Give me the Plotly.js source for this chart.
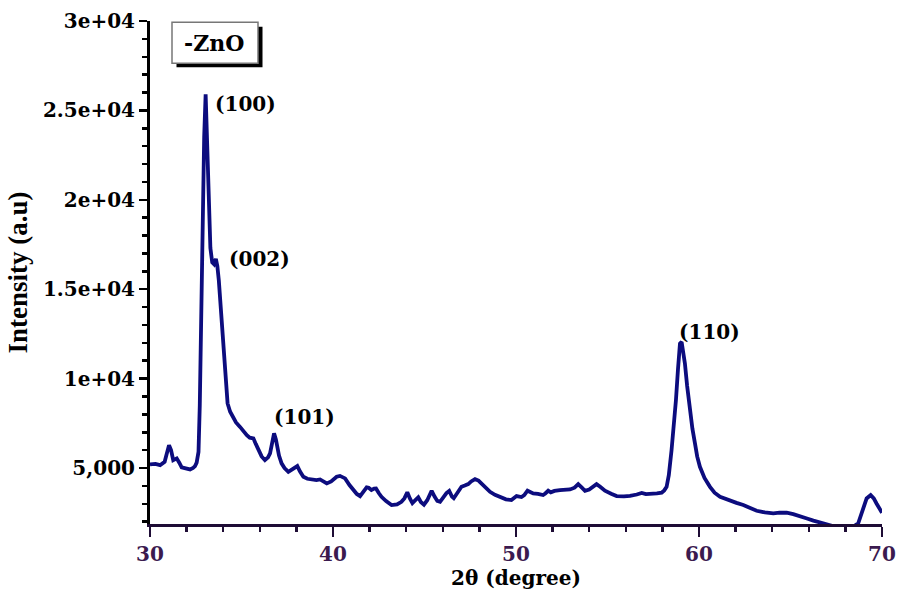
<!DOCTYPE html>
<html>
<head>
<meta charset="utf-8">
<script src="https://cdn.plot.ly/plotly-3.0.1.min.js"></script>
<style>html,body{margin:0;padding:0;background:#fff;}#chart{width:899px;height:593px;}</style>
</head>
<body>
<div id="chart"></div>
<script>
// 2θ (degree) positions
const twoTheta = [
  30.0, 30.3, 30.55, 30.8, 31.04, 31.15, 31.27, 31.46, 31.6, 31.73, 31.95, 32.19, 32.35, 32.46, 32.55, 32.65,
  32.72, 32.8, 32.88, 32.96, 33.04, 33.12, 33.2, 33.3, 33.4, 33.5, 33.6, 33.68, 33.76, 33.88, 34.0, 34.1,
  34.24, 34.38, 34.51, 34.7, 34.92, 35.1, 35.29, 35.45, 35.65, 35.78, 35.92, 36.1, 36.28, 36.45, 36.56, 36.68,
  36.78, 36.88, 36.95, 37.05, 37.19, 37.35, 37.56, 37.7, 37.83, 38.05, 38.2, 38.38, 38.6, 38.93, 39.1, 39.29,
  39.45, 39.66, 39.9, 40.2, 40.38, 40.66, 40.9, 41.1, 41.3, 41.48, 41.65, 41.84, 41.95, 42.1, 42.25, 42.35,
  42.5, 42.65, 42.9, 43.2, 43.5, 43.74, 43.9, 44.06, 44.2, 44.34, 44.5, 44.66, 44.8, 44.97, 45.15, 45.39,
  45.55, 45.7, 45.85, 46.02, 46.2, 46.35, 46.5, 46.6, 46.8, 47.02, 47.2, 47.39, 47.55, 47.76, 47.95, 48.11,
  48.35, 48.58, 48.85, 49.13, 49.45, 49.75, 50.03, 50.3, 50.45, 50.63, 50.8, 50.94, 51.2, 51.48, 51.6, 51.76,
  51.9, 52.1, 52.4, 52.7, 52.95, 53.2, 53.4, 53.6, 53.77, 54.0, 54.2, 54.4, 54.6, 54.86, 55.2, 55.5,
  55.9, 56.23, 56.6, 56.87, 57.1, 57.32, 57.7, 57.96, 58.1, 58.23, 58.35, 58.5, 58.62, 58.74, 58.85, 58.96,
  59.05, 59.14, 59.23, 59.35, 59.5, 59.64, 59.78, 59.9, 60.05, 60.3, 60.6, 60.85, 61.15, 61.4, 61.7, 62.05,
  62.42, 62.8, 63.15, 63.6, 64.06, 64.4, 64.79, 65.15, 65.52, 65.9, 66.25, 66.55, 66.8, 67.1, 67.5, 68.0,
  68.4, 68.7, 68.95, 69.16, 69.38, 69.55, 69.7, 69.85, 70.0
];
// Intensity (a.u) values
const intensity = [
  5200, 5230, 5160, 5350, 6280, 6000, 5440, 5540, 5300, 5040, 4980, 4920, 5000, 5110, 5300, 5900,
  8500, 14000, 19230, 23500, 25900, 23500, 20000, 17300, 16500, 16400, 16700, 16300, 15500, 13640, 11800, 10200,
  8610, 8150, 7860, 7550, 7300, 7050, 6840, 6700, 6660, 6350, 6000, 5650, 5440, 5600, 5820, 6500,
  6940, 6600, 6190, 5700, 5260, 5000, 4790, 4880, 4980, 5110, 4800, 4510, 4400, 4320, 4330, 4360,
  4250, 4140, 4250, 4510, 4560, 4420, 4050, 3770, 3550, 3430, 3650, 3920, 3900, 3770, 3850, 3860,
  3600, 3390, 3150, 2930, 2970, 3110, 3300, 3640, 3300, 3040, 3200, 3360, 3100, 2950, 3200, 3730,
  3400, 3160, 3110, 3360, 3600, 3720, 3400, 3310, 3650, 3950, 4020, 4100, 4250, 4380, 4300, 4140,
  3900, 3670, 3500, 3360, 3250, 3210, 3430, 3380, 3480, 3730, 3620, 3580, 3560, 3490, 3580, 3730,
  3640, 3720, 3770, 3760, 3800, 3900, 4100, 3900, 3730, 3800, 3950, 4100, 3950, 3730, 3560, 3430,
  3420, 3440, 3520, 3610, 3540, 3540, 3580, 3620, 3750, 3950, 4600, 6000, 7300, 8800, 10500, 11960,
  12050, 11500, 10850, 9600, 8240, 7200, 6380, 5650, 5070, 4450, 3950, 3620, 3390, 3280, 3150, 3050,
  2930, 2750, 2610, 2520, 2470, 2500, 2500, 2420, 2320, 2180, 2060, 1980, 1910, 1800, 1700, 1650,
  1700, 1910, 2700, 3300, 3490, 3300, 3020, 2780, 2500
];
// Peak labels
const peakLabels = ['(100)', '(002)', '(101)', '(110)'];
const peakLabelX = [33.44, 34.21, 36.67, 58.8];
const peakLabelY = [25340, 16680, 7850, 12600];
// Axis tick labels
const yTickAlias = {'5,000': '5,000', '10,000': '1e+04', '15,000': '1.5e+04', '20,000': '2e+04', '25,000': '2.5e+04', '30,000': '3e+04'};
const seriesName = '-ZnO';

const lineColor = '#0c0c7e';
const serif = 'DejaVu Serif';

const trace = {
  x: twoTheta, y: intensity, type: 'scatter', mode: 'lines', name: seriesName,
  line: {color: lineColor, width: 3.8}, showlegend: false, cliponaxis: true
};

const annotations = peakLabels.map((t, i) => ({
  x: peakLabelX[i], y: peakLabelY[i], xref: 'x', yref: 'y', text: t, showarrow: false,
  xanchor: 'left', yanchor: 'middle', font: {family: serif, size: 20, weight: 'bold', color: '#000'}
}));
annotations.push({
  x: (214 - 150) / 732, y: (524 - 43) / 503.3, xref: 'paper', yref: 'paper', text: seriesName,
  showarrow: false, xanchor: 'center', yanchor: 'middle',
  font: {family: serif, size: 22, weight: 'bold', color: '#000'}
});

const px = v => (v - 150) / 732;
const py = v => (524 - v) / 503.3;

const layout = {
  width: 899, height: 593,
  margin: {l: 150, r: 17, t: 21, b: 69, pad: 0},
  paper_bgcolor: '#fff', plot_bgcolor: '#fff',
  showlegend: false,
  xaxis: {
    range: [30, 70], tick0: 30, dtick: 10, showgrid: false, zeroline: false,
    showline: true, linecolor: '#1e0c35', linewidth: 3,
    ticks: 'outside', ticklen: 10, tickwidth: 2.5, tickcolor: '#1e0c35',
    minor: {dtick: 2, ticks: 'outside', ticklen: 5, tickwidth: 2.5, tickcolor: '#1e0c35', showgrid: false},
    tickfont: {family: serif, size: 20, weight: 'bold', color: '#3b1a4f'},
    title: {text: '2θ (degree)', font: {family: serif, size: 20, weight: 'bold', color: '#000'}, standoff: 6}
  },
  yaxis: {
    range: [1870, 30000], tick0: 0, dtick: 5000, tickformat: ',', labelalias: yTickAlias,
    showgrid: false, zeroline: false,
    showline: true, linecolor: '#000', linewidth: 3,
    ticks: 'outside', ticklen: 8, tickwidth: 2.5, tickcolor: '#000',
    minor: {dtick: 1000, ticks: 'outside', ticklen: 5, tickwidth: 2.5, tickcolor: '#000', showgrid: false},
    tickfont: {family: serif, size: 20, weight: 'bold', color: '#000'},
    title: {text: 'Intensity (a.u)', font: {family: 'Liberation Serif', size: 27, weight: 'bold', color: '#000'}, standoff: 8}
  },
  shapes: [
    {type: 'rect', xref: 'paper', yref: 'paper', x0: px(176.5), x1: px(262.5), y0: py(67), y1: py(26.5),
     fillcolor: '#000', line: {width: 0}, layer: 'above'},
    {type: 'rect', xref: 'paper', yref: 'paper', x0: px(172), x1: px(258), y0: py(63), y1: py(22),
     fillcolor: '#fff', line: {color: '#777', width: 1.5}, layer: 'above'}
  ],
  annotations: annotations
};

Plotly.newPlot('chart', [trace], layout, {staticPlot: true, displayModeBar: false});
</script>
</body>
</html>
